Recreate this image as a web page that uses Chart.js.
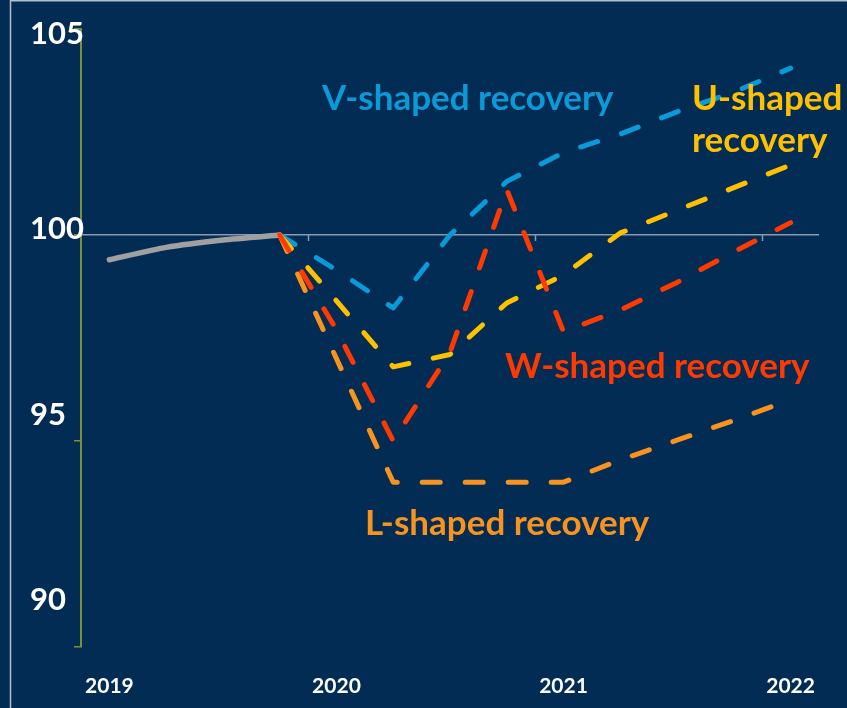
<!DOCTYPE html>
<html>
<head>
<meta charset="utf-8">
<script src="https://cdn.jsdelivr.net/npm/chart.js@4"></script>
<style>
  html, body { margin: 0; padding: 0; background: #022c54; }
  #wrap { width: 847px; height: 708px; }
</style>
</head>
<body>
<div id="wrap"><canvas id="recoveryChart" width="847" height="708"></canvas></div>
<script>
// --- data (quarterly index, 2019Q4 = 100) ---
const quarters = ['2019 Q1', '2019 Q2', '2019 Q3', '2019 Q4',
                  '2020 Q1', '2020 Q2', '2020 Q3', '2020 Q4',
                  '2021 Q1', '2021 Q2', '2021 Q3', '2021 Q4',
                  '2022 Q1'];
const history = [99.4, 99.7, 99.88, 100, null, null, null, null, null, null, null, null, null];
const vShaped = [null, null, null, 100, 99.15, 98.23, 100.0, 101.3, 102.0, 102.45, 102.99, 103.47, 104.05];
const uShaped = [null, null, null, 100, 98.4, 96.8, 97.1, 98.35, 99.03, 100.05, 100.6, 101.15, 101.7];
const wShaped = [null, null, null, 100, 97.7, 95.0, 97.15, 101.1, 97.65, 98.18, 98.85, 99.59, 100.3];
const lShaped = [null, null, null, 100, 97.0, 94.0, 94.0, 94.0, 94.0, 94.54, 95.02, 95.5, 96.0];
const yTicks = [105, 100, 95, 90];
const seriesNames = ['V-shaped recovery', 'U-shaped recovery', 'W-shaped recovery', 'L-shaped recovery'];

// --- colours ---
const BG = '#022c54';
const BLUE = '#0a9ad8';
const YELLOW = '#ffc000';
const RED = '#ff3a00';
const ORANGE = '#f7931e';
const GREY = '#a0a0a0';
const AXIS_GREEN = '#76923c';
const LINE_100 = '#8a9bb0';

const FONT = "Lato, 'Open Sans', sans-serif";

// background + thin frame on top/left
const backgroundPlugin = {
    id: 'background',
    beforeDraw(chart) {
        const ctx = chart.ctx;
        ctx.save();
        ctx.fillStyle = BG;
        ctx.fillRect(0, 0, chart.width, chart.height);
        ctx.strokeStyle = '#b4bfcc';
        ctx.lineWidth = 1.5;
        ctx.beginPath();
        ctx.moveTo(10.5, chart.height);
        ctx.lineTo(10.5, 0.75);
        ctx.lineTo(chart.width, 0.75);
        ctx.stroke();
        ctx.restore();
    }
};

// small year ticks hanging off the 100 line
const yearTicksPlugin = {
    id: 'yearTicks',
    beforeDatasetsDraw(chart) {
        const x = chart.scales.x, y = chart.scales.y;
        const ctx = chart.ctx;
        const y100 = y.getPixelForValue(100);
        ctx.save();
        ctx.strokeStyle = LINE_100;
        ctx.lineWidth = 1.5;
        for (let i = 4; i < quarters.length; i += 4) {
            const px = Math.round((x.getPixelForValue(i - 1) + x.getPixelForValue(i)) / 2) + 0.5;
            ctx.beginPath();
            ctx.moveTo(px, y100);
            ctx.lineTo(px, y100 + 6);
            ctx.stroke();
        }
        ctx.restore();
    }
};

// y labels sit left-aligned, nudged off their ticks like the original
const yLabelShift = [4.5, -6.5, -26, -47];
const yLabelsPlugin = {
    id: 'yLabels',
    afterDraw(chart) {
        const y = chart.scales.y;
        const ctx = chart.ctx;
        ctx.save();
        ctx.fillStyle = '#ffffff';
        ctx.font = 'bold 31px ' + FONT;
        ctx.textAlign = 'left';
        ctx.textBaseline = 'middle';
        yTicks.forEach((v, i) => {
            ctx.fillText(String(v), 30, y.getPixelForValue(v) + yLabelShift[i]);
        });
        ctx.restore();
    }
};

// series name labels
const seriesLabelsPlugin = {
    id: 'seriesLabels',
    afterDatasetsDraw(chart) {
        const ctx = chart.ctx;
        ctx.save();
        ctx.font = 'bold 35px ' + FONT;
        ctx.textAlign = 'left';
        ctx.textBaseline = 'alphabetic';
        ctx.fillStyle = BLUE;
        ctx.fillText(seriesNames[0], 322, 110);
        ctx.fillStyle = YELLOW;
        const uParts = seriesNames[1].split(' ');
        ctx.fillText(uParts[0], 692, 110);
        ctx.fillText(uParts[1], 692, 152);
        ctx.fillStyle = RED;
        ctx.fillText(seriesNames[2], 505, 378);
        ctx.fillStyle = ORANGE;
        ctx.fillText(seriesNames[3], 365, 535);
        ctx.restore();
    }
};

function dashed(label, data, color, order) {
    return {
        label: label,
        data: data,
        borderColor: color,
        borderWidth: 5,
        borderDash: [18, 25],
        borderCapStyle: 'round',
        borderJoinStyle: 'round',
        pointRadius: 0,
        tension: 0,
        fill: false,
        order: order
    };
}

new Chart(document.getElementById('recoveryChart'), {
    type: 'line',
    data: {
        labels: quarters,
        datasets: [
            {
                label: 'History',
                data: history,
                borderColor: GREY,
                borderWidth: 5.5,
                borderCapStyle: 'round',
                pointRadius: 0,
                tension: 0.2,
                fill: false,
                order: 5
            },
            dashed(seriesNames[0], vShaped, BLUE, 4),
            dashed(seriesNames[1], uShaped, YELLOW, 3),
            dashed(seriesNames[3], lShaped, ORANGE, 2),
            dashed(seriesNames[2], wShaped, RED, 1)
        ]
    },
    options: {
        responsive: false,
        animation: false,
        layout: { padding: { left: 0, right: 28, top: 29, bottom: 0 } },
        plugins: {
            legend: { display: false },
            tooltip: { enabled: false }
        },
        scales: {
            x: {
                offset: true,
                grid: { display: false },
                border: { display: false },
                ticks: {
                    autoSkip: false,
                    maxRotation: 0,
                    padding: 19,
                    color: '#ffffff',
                    font: { family: FONT, size: 21, weight: 'bold' },
                    callback: (val, i) => quarters[i].endsWith('Q1') ? quarters[i].slice(0, 4) : ''
                },
                afterFit: (scale) => { scale.height = 61; }
            },
            y: {
                min: 90,
                max: 105,
                ticks: { stepSize: 5, display: false },
                grid: {
                    color: (ctx) => ctx.tick && ctx.tick.value === 100 ? LINE_100 : 'rgba(0,0,0,0)',
                    tickColor: AXIS_GREEN,
                    tickLength: 7,
                    lineWidth: 1.5
                },
                border: { display: true, color: AXIS_GREEN, width: 2 },
                afterFit: (scale) => { scale.width = 81; }
            }
        }
    },
    plugins: [backgroundPlugin, yearTicksPlugin, yLabelsPlugin, seriesLabelsPlugin]
});
</script>
</body>
</html>
